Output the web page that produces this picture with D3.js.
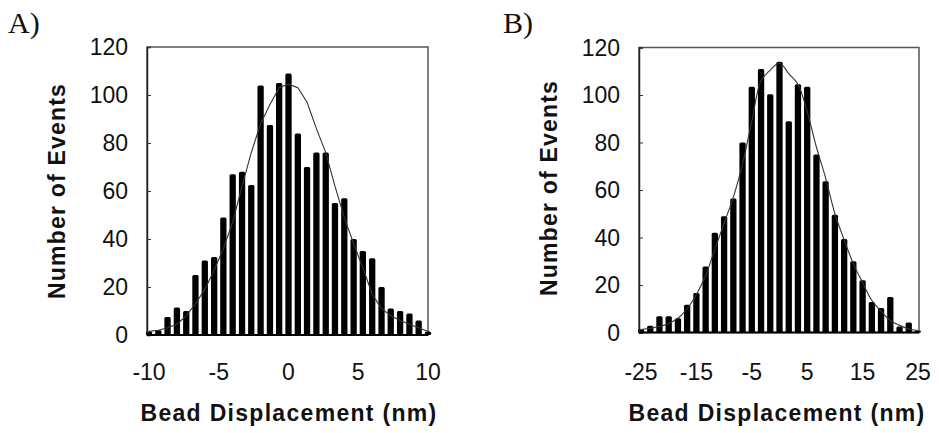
<!DOCTYPE html>
<html>
<head>
<meta charset="utf-8">
<script src="https://cdn.jsdelivr.net/npm/d3@7"></script>
<style>
  html, body { margin: 0; padding: 0; background: #fff; }
  svg { display: block; }
</style>
</head>
<body>
<svg id="chart" width="939" height="433"></svg>
<script>
// ---- Data ----
const binsA = [-10, -9.33, -8.67, -8, -7.33, -6.67, -6, -5.33, -4.67, -4, -3.33, -2.67, -2, -1.33, -0.67, 0, 0.67, 1.33, 2, 2.67, 3.33, 4, 4.67, 5.33, 6, 6.67, 7.33, 8, 8.67, 9.33, 10];
const countsA = [1.5, 2, 7.5, 11.5, 10, 25, 31, 32.5, 49, 67, 68, 62.5, 104, 87.5, 105, 109, 84, 70, 76, 76, 55, 57, 40, 35, 32, 20, 11, 10, 9, 6, 1.5];
const fitA = [1.5, 2, 3, 4.5, 8, 13, 19, 27, 36, 47, 62, 76, 88, 96, 103, 104.5, 103, 97, 86, 76, 62, 49, 38, 28, 17, 11, 8, 6, 4.5, 3, 1.5];
const xTicksA = [-10, -5, 0, 5, 10];

const binsB = [-25, -23.33, -21.67, -20, -18.33, -16.67, -15, -13.33, -11.67, -10, -8.33, -6.67, -5, -3.33, -1.67, 0, 1.67, 3.33, 5, 6.67, 8.33, 10, 11.67, 13.33, 15, 16.67, 18.33, 20, 21.67, 23.33, 25];
const countsB = [1.4, 2.8, 6.8, 6.8, 6, 11.7, 16.6, 27.8, 42, 49, 56.4, 80, 103.5, 111, 100.3, 114, 89, 104.5, 103.5, 75, 63.7, 49.6, 39.4, 30, 22, 12.8, 10.3, 15, 2.5, 4.2, 0.7];
const fitB = [1.2, 1.8, 2.5, 3.8, 6, 10, 16, 24, 35, 46, 57, 71, 89, 106, 110.5, 113.5, 109, 104.5, 93, 78, 65, 50, 39, 29, 21, 13.5, 9, 5, 3, 1.5, 0.8];
const xTicksB = [-25, -15, -5, 5, 15, 25];

const yTicks = [0, 20, 40, 60, 80, 100, 120];
const panelLabels = ["A)", "B)"];
const xTitle = "Bead Displacement (nm)";
const yTitle = "Number of Events";

// ---- Drawing ----
const svg = d3.select("#chart");

function panel(cfg) {
  const g = svg.append("g");
  const x = d3.scaleLinear().domain(cfg.xDomain).range([cfg.left + cfg.pad, cfg.right - cfg.padR]);
  const y = d3.scaleLinear().domain([0, 120]).range([cfg.bottom, cfg.top]);

  // frame (top / right)
  g.append("rect")
    .attr("x", cfg.left).attr("y", cfg.top)
    .attr("width", cfg.right - cfg.left).attr("height", cfg.bottom - cfg.top)
    .attr("fill", "none").attr("stroke", "#555").attr("stroke-width", 1.5);

  // bars
  const bw = 6.3;
  g.selectAll("rect.bar").data(cfg.bins.map((b, i) => ({ b, v: cfg.counts[i] })))
    .enter().append("rect").attr("class", "bar")
    .attr("x", d => x(d.b) - bw / 2)
    .attr("y", d => y(d.v))
    .attr("width", bw)
    .attr("height", d => y(0) - y(d.v))
    .attr("rx", 1.5)
    .attr("fill", "#000");

  // fit curve
  const line = d3.line()
    .x((d, i) => x(cfg.bins[i]))
    .y(d => y(d))
    .curve(cfg.smooth ? d3.curveCatmullRom : d3.curveLinear);
  g.append("path").datum(cfg.fit)
    .attr("d", line)
    .attr("fill", "none").attr("stroke", "#333").attr("stroke-width", 1.1);

  // y axis (ticks inward)
  const yAxis = d3.axisRight(y).tickValues(yTicks).tickSize(4).tickFormat("");
  const ya = g.append("g").attr("transform", `translate(${cfg.left},0)`).call(yAxis);
  ya.select(".domain").attr("stroke", "#222").attr("stroke-width", 1.5);
  ya.selectAll(".tick line").attr("stroke", "#333");

  // y tick labels
  g.selectAll("text.ytl").data(yTicks).enter().append("text")
    .attr("class", "ytl")
    .attr("x", cfg.left - 19)
    .attr("y", d => y(d))
    .attr("dy", "0.35em")
    .attr("text-anchor", "end")
    .attr("font-family", "Liberation Sans, Arial, sans-serif")
    .attr("font-size", 23)
    .attr("fill", "#111")
    .text(d => d);

  // baseline
  g.append("line")
    .attr("x1", cfg.left).attr("x2", cfg.right)
    .attr("y1", y(0)).attr("y2", y(0))
    .attr("stroke", "#000").attr("stroke-width", 2);

  // x tick labels
  g.selectAll("text.xtl").data(cfg.xTicks).enter().append("text")
    .attr("class", "xtl")
    .attr("x", d => x(d))
    .attr("y", 372)
    .attr("dy", "0.35em")
    .attr("text-anchor", "middle")
    .attr("font-family", "Liberation Sans, Arial, sans-serif")
    .attr("font-size", 23)
    .attr("fill", "#111")
    .text(d => d);

  // x title
  g.append("text")
    .attr("x", cfg.xTitleX).attr("y", 421)
    .attr("text-anchor", "middle")
    .attr("font-family", "Liberation Sans, Arial, sans-serif")
    .attr("font-weight", "bold")
    .attr("font-size", 23)
    .style("letter-spacing", "1.3px")
    .attr("fill", "#111")
    .text(xTitle);

  // y title
  g.append("text")
    .attr("transform", `translate(${cfg.yTitleX},${cfg.yTitleY}) rotate(-90)`)
    .attr("text-anchor", "middle")
    .attr("dy", "0.35em")
    .attr("font-family", "Liberation Sans, Arial, sans-serif")
    .attr("font-weight", "bold")
    .attr("font-size", 23)
    .style("letter-spacing", "1.2px")
    .attr("fill", "#111")
    .text(yTitle);

  // panel label
  g.append("text")
    .attr("x", cfg.labelX).attr("y", 33)
    .attr("font-family", "Liberation Serif, Times New Roman, serif")
    .attr("font-size", 30)
    .attr("fill", "#111")
    .text(cfg.label);
}

panel({
  left: 147, right: 428, top: 47, bottom: 335, pad: 2, padR: 0,
  xDomain: [-10, 10], bins: binsA, counts: countsA, fit: fitA, xTicks: xTicksA,
  smooth: false, xTitleX: 289, yTitleX: 57, yTitleY: 191, labelX: 8, label: panelLabels[0]
});
panel({
  left: 639, right: 919, top: 47.5, bottom: 332.5, pad: 2, padR: 1,
  xDomain: [-25, 25], bins: binsB, counts: countsB, fit: fitB, xTicks: xTicksB,
  smooth: true, xTitleX: 777, yTitleX: 549, yTitleY: 188, labelX: 503, label: panelLabels[1]
});
</script>
</body>
</html>
